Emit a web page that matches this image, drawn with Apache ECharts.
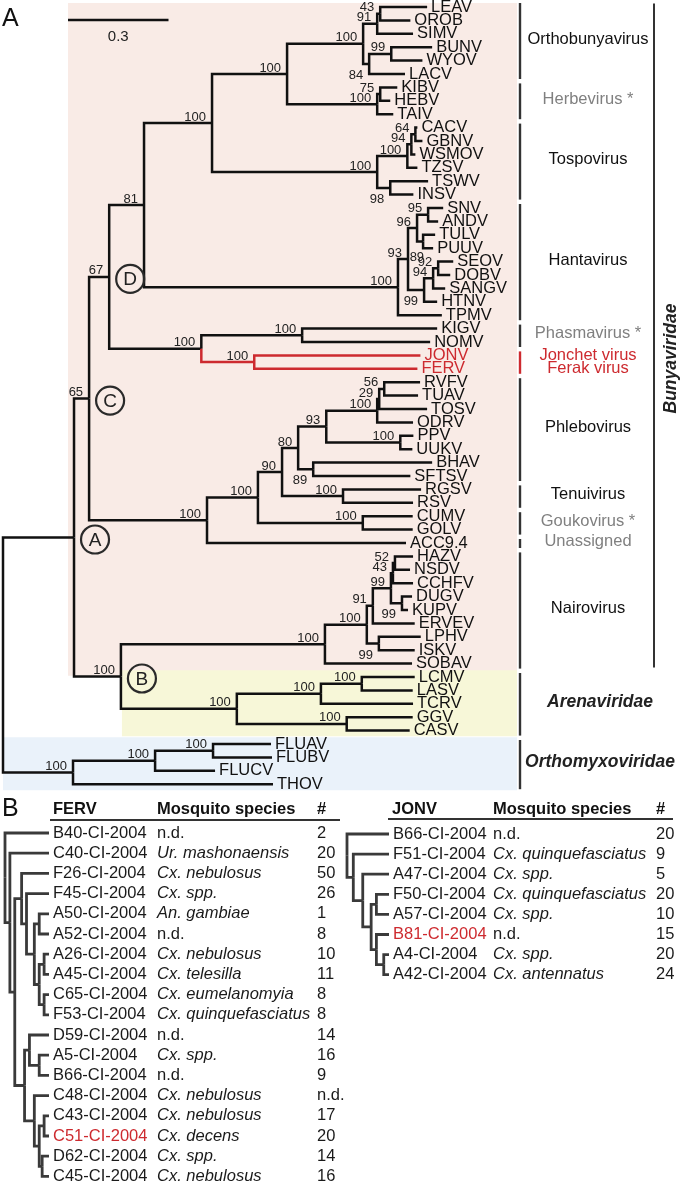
<!DOCTYPE html>
<html>
<head>
<meta charset="utf-8">
<script src="https://cdn.jsdelivr.net/npm/echarts@6.0.0/dist/echarts.min.js"></script>
<style>
html,body{margin:0;padding:0;background:#ffffff;}
#chart{width:680px;height:1184px;}
</style>
</head>
<body>
<div id="chart"></div>
<script>
// ================= DATA =================
// Panel A: phylogeny (Newick, branch lengths in substitutions/site, internal labels = bootstrap %)
const nwkOrthobunya = "(((LEAV:0.140,OROB:0.090)43:0.009,SIMV:0.107)91:0.042,((BUNV:0.122,WYOV:0.093)99:0.066,LACV:0.107)84:0.018)100:0.227";
const nwkHerbe = "((KIBV:0.051,HEBV:0.030)75:0.009,TAIV:0.048)100:0.269";
const nwkTospo = "((((CACV:0.006,GBNV:0.021)64:0.012,WSMOV:0.012)94:0.012,TZSV:0.030)100:0.090,(TSWV:0.113,INSV:0.069)98:0.039)100:0.493";
const nwkHanta = "((((SNV:0.045,ANDV:0.030)95:0.033,(TULV:0.036,PUUV:0.030)89:0.018)96:0.027,(((SEOV:0.045,DOBV:0.036)92:0.015,SANGV:0.036)94:0.027,HTNV:0.039)99:0.048)93:0.030,TPMV:0.131)100:0.758";
const nwkPhasmaJonchet = "((KIGV:0.403,NOMV:0.382)100:0.301,(JONV:0.496,FERV:0.487)100:0.158)100:0.275";
const nwkPhlebo = "((((((((RVFV:0.107,TUAV:0.101)56:0.015,TOSV:0.143)29:0.006,ODRV:0.107)100:0.152,(PPV:0.039,UUKV:0.036)100:0.221)93:0.084,(BHAV:0.355,SFTSV:0.290)89:0.045)80:0.048,(RGSV:0.233,RSV:0.209)100:0.182)90:0.072,(CUMV:0.149,GOLV:0.149)100:0.313)100:0.152,ACC9.4:0.594)100:0.352";
const nwkNairo = "((((((HAZV:0.054,NSDV:0.045)52:0.006,CCHFV:0.060)43:0.006,(DUGV:0.030,KUPV:0.018)99:0.033)99:0.054,ERVEV:0.125)91:0.018,(LPHV:0.125,ISKV:0.107)99:0.036)100:0.125,SOBAV:0.260)100:0.609";
const nwkArena = "(((LCMV:0.158,LASV:0.152)100:0.122,TCRV:0.275)100:0.251,(GGV:0.197,CASV:0.188)100:0.328)100:0.346";
const nwkOrthomyxo = "(((FLUAV:0.173,FLUBV:0.176)100:0.173,FLUCV:0.179)100:0.245,THOV:0.597)100:0.209";
const nwkBackbone = "((((((({Orthobunya},{Herbe})100:0.224,{Tospo})100:0.203,{Hanta})81:0.104,{PhasmaJonchet})67:0.060,{Phlebo})65:0.045,({Nairo},{Arena})100:0.140):0.212,{Orthomyxo});";

const highlightTips = ['JONV', 'FERV'];
const markerLetters = ['A', 'B', 'C', 'D'];
const markerTipA = ['LEAV', 'HAZV', 'LEAV', 'LEAV'];
const markerTipB = ['CASV', 'CASV', 'ACC9.4', 'FERV'];
const bootBelowTipA = ['BUNV', 'TSWV', 'TULV', 'SEOV', 'BHAV', 'DUGV', 'LPHV'];
const bootBelowTipB = ['LACV', 'INSV', 'PUUV', 'HTNV', 'SFTSV', 'KUPV', 'ISKV'];

const cladeNames = ['Orthobunyavirus', 'Herbevirus *', 'Tospovirus', 'Hantavirus', 'Phasmavirus *', 'Jonchet virus|Ferak virus', 'Phlebovirus', 'Tenuivirus', 'Goukovirus *', 'Unassigned', 'Nairovirus', 'Arenaviridae', 'Orthomyxoviridae'];
const cladeFirst = ['LEAV', 'KIBV', 'CACV', 'SNV', 'KIGV', 'JONV', 'RVFV', 'RGSV', 'CUMV', 'ACC9.4', 'HAZV', 'LCMV', 'FLUAV'];
const cladeLast = ['LACV', 'TAIV', 'INSV', 'TPMV', 'NOMV', 'FERV', 'SFTSV', 'RSV', 'GOLV', 'ACC9.4', 'SOBAV', 'CASV', 'THOV'];
const cladeKind = ['genus', 'proposed', 'genus', 'genus', 'proposed', 'novel', 'genus', 'genus', 'proposed', 'proposed', 'genus', 'family', 'family'];
const familyName = 'Bunyaviridae';
const familyFirst = 'LEAV';
const familyLast = 'SOBAV';
const scaleBarLength = 0.3;

// Panel B: isolate trees (cladograms) and tables
const fervTree = "(B40-CI-2004:9,(C40-CI-2004:8,((F26-CI-2004:5.6,(F45-CI-2004:4.6,((A50-CI-2004:2,A52-CI-2004:2):1,((A26-CI-2004:1,A45-CI-2004:1):1,(C65-CI-2004:1,F53-CI-2004:1):1):1):1.6):1):1.4,((D59-CI-2004:4,(A5-CI-2004:2,B66-CI-2004:2):2):1,(C48-CI-2004:3,((C43-CI-2004:1,C51-CI-2004:1):1,(D62-CI-2004:1.4,C45-CI-2004:1.4):0.6):1):2):2):1):1);";
const fervSpecies = ['n.d.', 'Ur. mashonaensis', 'Cx. nebulosus', 'Cx. spp.', 'An. gambiae', 'n.d.', 'Cx. nebulosus', 'Cx. telesilla', 'Cx. eumelanomyia', 'Cx. quinquefasciatus', 'n.d.', 'Cx. spp.', 'n.d.', 'Cx. nebulosus', 'Cx. nebulosus', 'Cx. decens', 'Cx. spp.', 'Cx. nebulosus'];
const fervCount = ['2', '20', '50', '26', '1', '8', '10', '11', '8', '8', '14', '16', '9', 'n.d.', '17', '20', '14', '16'];
const fervHighlight = 'C51-CI-2004';
const jonvTree = "(B66-CI-2004:8,(F51-CI-2004:6.8,(A47-CI-2004:5,((F50-CI-2004:2.4,A57-CI-2004:2.4):1,(B81-CI-2004:2.4,(A4-CI-2004:1,A42-CI-2004:1):1.4):1):1.6):1.8):1.2);";
const jonvSpecies = ['n.d.', 'Cx. quinquefasciatus', 'Cx. spp.', 'Cx. quinquefasciatus', 'Cx. spp.', 'n.d.', 'Cx. spp.', 'Cx. antennatus'];
const jonvCount = ['20', '9', '5', '20', '10', '15', '20', '24'];
const jonvHighlight = 'B81-CI-2004';
const tableHeaders = ['FERV', 'JONV', 'Mosquito species', '#'];

// ================= STYLE / LAYOUT =================
const FONT = '"Liberation Sans", Arial, Helvetica, sans-serif';
const S = {
  leafSize: 16.5, bootSize: 13, cladeSize: 16.5, familySize: 17.5, tableSize: 16.5,
  lineA: 2.5, colA: '#111111', red: '#cd2a2f', gray: '#808080', bootCol: '#222222',
  bgRight: 517, barX: 520, cladeX: 588, familyX: 600,
  bunyaBarX: 654, bunyaTextX: 671, bunyaTextDy: 23,
  scaleX: 68, scaleY: 20, scaleTextY: 37,
  leafGap: 4, bootDx: 6,
  markerDx: 21, markerDy: 2, markerR: 14,
  lineB: 2.8, colB: '#3a3a3a', textB: '#1a1a1a',
  fervSpeciesX: 157, fervCountX: 317, jonvSpeciesX: 493, jonvCountX: 656
};
// label nudges to avoid overlaps (layout only)
const bootNudge = [{a: 'TULV', b: 'PUUV', dx: 7, dy: 4}];
const bgLayout = [
  {anchor: ['LEAV', 'SOBAV'], dx: -6, first: 'LEAV', last: 'SOBAV', top: -0.3, bottom: 0.9, color: '#f9ebe6'},
  {anchor: ['HAZV', 'CASV'], dx: 1, first: 'LCMV', last: 'CASV', top: -0.5, bottom: 0.42, color: '#f7f7d8'},
  {anchor: null, dx: 0, first: 'FLUAV', last: 'THOV', top: -0.5, bottom: 0.45, color: '#eaf2fa'}
];

// ================= HELPERS =================
function parseNewick(s) {
  let i = 0;
  function readNode() {
    const n = {children: [], name: '', len: 0};
    if (s[i] === '(') {
      i++;
      n.children.push(readNode());
      while (s[i] === ',') { i++; n.children.push(readNode()); }
      i++;
    }
    let t = '';
    while (i < s.length && ',:();'.indexOf(s[i]) < 0) t += s[i++];
    n.name = t.trim();
    if (s[i] === ':') {
      i++;
      let l = '';
      while (i < s.length && ',();'.indexOf(s[i]) < 0) l += s[i++];
      n.len = parseFloat(l);
    }
    return n;
  }
  return readNode();
}
function layoutTree(root) {
  const nodes = [], leaves = [];
  (function walk(n, d, parent) {
    n.depth = d; n.parent = parent; nodes.push(n);
    if (!n.children.length) { n.y = leaves.length; leaves.push(n); n.tips = [n.name]; }
    else {
      n.children.forEach(c => walk(c, d + c.len, n));
      n.y = (n.children[0].y + n.children[n.children.length - 1].y) / 2;
      n.tips = [].concat.apply([], n.children.map(c => c.tips));
    }
  })(root, 0, null);
  let maxDepth = 0; leaves.forEach(l => { maxDepth = Math.max(maxDepth, l.depth); });
  return {root, nodes, leaves, maxDepth};
}
function findNode(T, a, b) {
  let best = null;
  T.nodes.forEach(n => {
    if (n.tips.indexOf(a) >= 0 && n.tips.indexOf(b) >= 0 && (!best || n.tips.length < best.tips.length)) best = n;
  });
  return best;
}
function leafIdx(T, name) { return T.leaves.findIndex(l => l.name === name); }
function fontStr(size, weight, italic) { return (italic ? 'italic ' : '') + (weight || 'normal') + ' ' + size + 'px ' + FONT; }
function textEl(x, y, text, o) {
  o = o || {};
  const align = o.align || 'left', va = o.va || 'middle';
  return {type: 'text', x: x, y: y, rotation: o.rotation || 0,
    style: {text: text, fill: o.fill || '#111', font: fontStr(o.size || 16.5, o.weight, o.italic),
      align: align, verticalAlign: va, textAlign: align, textVerticalAlign: va}};
}
function cs(gridIdx, data, render, z) {
  return {type: 'custom', coordinateSystem: 'cartesian2d', xAxisIndex: gridIdx, yAxisIndex: gridIdx,
    data: data, renderItem: render, silent: true, z: z || 2, animation: false, clip: false};
}

// ================= BUILD TREES =================
let nwkA = nwkBackbone
  .replace('{Orthobunya}', nwkOrthobunya).replace('{Herbe}', nwkHerbe).replace('{Tospo}', nwkTospo)
  .replace('{Hanta}', nwkHanta).replace('{PhasmaJonchet}', nwkPhasmaJonchet).replace('{Phlebo}', nwkPhlebo)
  .replace('{Nairo}', nwkNairo).replace('{Arena}', nwkArena).replace('{Orthomyxo}', nwkOrthomyxo);
const TA = layoutTree(parseNewick(nwkA));
const TF = layoutTree(parseNewick(fervTree));
const TJ = layoutTree(parseNewick(jonvTree));

function segmentsOf(T) { return T.nodes.filter(n => n.parent); }
const segA = segmentsOf(TA);
const segF = segmentsOf(TF);
const segJ = segmentsOf(TJ);
const bootNodes = TA.nodes.filter(n => n.children.length && n.name !== '');
const belowSet = bootBelowTipA.map((a, i) => findNode(TA, a, bootBelowTipB[i]));
const nudgeNodes = bootNudge.map(o => findNode(TA, o.a, o.b));
const markerNodes = markerLetters.map((l, i) => findNode(TA, markerTipA[i], markerTipB[i]));

function lineRender(segs, colorFn, width) {
  return function (params, api) {
    const n = segs[params.dataIndex];
    const p0 = api.coord([api.value(0), api.value(1)]);
    const p1 = api.coord([api.value(0), api.value(3)]);
    const p2 = api.coord([api.value(2), api.value(3)]);
    return {type: 'polyline', shape: {points: [p0, p1, p2]},
      style: {stroke: colorFn(n), lineWidth: width, fill: null, lineJoin: 'miter', lineCap: 'butt'}};
  };
}
const segData = segs => segs.map(n => [n.parent.depth, n.parent.y, n.depth, n.y]);

const series = [];

// backgrounds
series.push(cs(0, bgLayout.map(b => {
  const anc = b.anchor ? findNode(TA, b.anchor[0], b.anchor[1]) : TA.root;
  return [anc.depth, leafIdx(TA, b.first) + b.top, leafIdx(TA, b.last) + b.bottom];
}), function (params, api) {
  const b = bgLayout[params.dataIndex];
  const p0 = api.coord([api.value(0), api.value(1)]);
  const p1 = api.coord([api.value(0), api.value(2)]);
  const x0 = p0[0] + b.dx;
  return {type: 'rect', shape: {x: x0, y: p0[1], width: S.bgRight - x0, height: p1[1] - p0[1]}, style: {fill: b.color}};
}, 0));

// clade bars + names
series.push(cs(0, cladeNames.map((n, i) => [leafIdx(TA, cladeFirst[i]), leafIdx(TA, cladeLast[i])]), function (params, api) {
  const i = params.dataIndex, kind = cladeKind[i];
  const f = api.value(0), l = api.value(1);
  const y0 = api.coord([0, f])[1] - 4, y1 = api.coord([0, l])[1] + 5;
  const col = kind === 'novel' ? S.red : '#333';
  const kids = [{type: 'rect', shape: {x: S.barX - 1.2, y: y0, width: 2.4, height: y1 - y0}, style: {fill: col}}];
  const mid = (y0 + y1) / 2 - 2;
  if (kind === 'novel') {
    cladeNames[i].split('|').forEach((t, k) => {
      kids.push(textEl(S.cladeX, api.coord([0, f + k])[1], t, {align: 'center', fill: S.red, size: S.cladeSize}));
    });
  } else if (kind === 'family') {
    kids.push(textEl(S.familyX, mid, cladeNames[i], {align: 'center', size: S.familySize, weight: 'bold', italic: true, fill: '#222'}));
  } else {
    kids.push(textEl(S.cladeX, mid, cladeNames[i], {align: 'center', size: S.cladeSize, fill: kind === 'proposed' ? S.gray : '#111'}));
  }
  return {type: 'group', children: kids};
}, 3));

// family (Bunyaviridae) bar + rotated label
series.push(cs(0, [[leafIdx(TA, familyFirst), leafIdx(TA, familyLast)]], function (params, api) {
  const y0 = api.coord([0, api.value(0)])[1] - 3.5, y1 = api.coord([0, api.value(1)])[1] + 4;
  return {type: 'group', children: [
    {type: 'rect', shape: {x: S.bunyaBarX - 1, y: y0, width: 2, height: y1 - y0}, style: {fill: '#333'}},
    textEl(S.bunyaTextX, (y0 + y1) / 2 + S.bunyaTextDy, familyName, {align: 'center', size: S.familySize, weight: 'bold', italic: true, rotation: Math.PI / 2, fill: '#222'})
  ]};
}, 3));

// tree A branches
series.push(cs(0, segData(segA), lineRender(segA, n => n.tips.every(t => highlightTips.indexOf(t) >= 0) ? S.red : S.colA, S.lineA), 5));

// leaf labels
series.push(cs(0, TA.leaves.map(l => [l.depth, l.y]), function (params, api) {
  const l = TA.leaves[params.dataIndex];
  const p = api.coord([api.value(0), api.value(1)]);
  return textEl(p[0] + S.leafGap, p[1], l.name, {size: S.leafSize, fill: highlightTips.indexOf(l.name) >= 0 ? S.red : '#111'});
}, 6));

// bootstrap values
series.push(cs(0, bootNodes.map(n => [n.depth, n.y]), function (params, api) {
  const n = bootNodes[params.dataIndex];
  const p = api.coord([api.value(0), api.value(1)]);
  const below = belowSet.indexOf(n) >= 0;
  const k = nudgeNodes.indexOf(n);
  const ndx = k >= 0 ? bootNudge[k].dx : 0, ndy = k >= 0 ? bootNudge[k].dy : 0;
  return textEl(p[0] - S.bootDx + ndx, (below ? p[1] + 5 : p[1] + 0.5) + ndy, n.name,
    {align: 'right', va: below ? 'top' : 'bottom', size: S.bootSize, fill: S.bootCol});
}, 6));

// node markers (A-D)
series.push(cs(0, markerNodes.map(n => [n.depth, n.y]), function (params, api) {
  const p = api.coord([api.value(0), api.value(1)]);
  const cx = p[0] + S.markerDx, cy = p[1] + S.markerDy;
  return {type: 'group', children: [
    {type: 'circle', shape: {cx: cx, cy: cy, r: S.markerR}, style: {fill: null, stroke: '#2a2a2a', lineWidth: 2.2}},
    textEl(cx, cy + 1, markerLetters[params.dataIndex], {align: 'center', size: 19, fill: '#222'})
  ]};
}, 7));

// scale bar
series.push(cs(0, [[scaleBarLength]], function (params, api) {
  const len = api.coord([api.value(0), 0])[0] - api.coord([0, 0])[0];
  return {type: 'group', children: [
    {type: 'line', shape: {x1: S.scaleX, y1: S.scaleY, x2: S.scaleX + len, y2: S.scaleY}, style: {stroke: '#111', lineWidth: 2.5}},
    textEl(S.scaleX + len / 2, S.scaleTextY, String(api.value(0)), {align: 'center', size: 15, fill: '#222'})
  ]};
}, 5));

// Panel B trees
series.push(cs(1, segData(segF), lineRender(segF, () => S.colB, S.lineB), 5));
series.push(cs(2, segData(segJ), lineRender(segJ, () => S.colB, S.lineB), 5));

function tableRender(T, species, counts, hl, spX, cnX) {
  return function (params, api) {
    const l = T.leaves[params.dataIndex];
    const p = api.coord([api.value(0), api.value(1)]);
    const sp = species[params.dataIndex];
    return {type: 'group', children: [
      textEl(p[0] + S.leafGap, p[1], l.name, {size: S.tableSize, fill: l.name === hl ? S.red : S.textB}),
      textEl(spX, p[1], sp, {size: S.tableSize, italic: sp !== 'n.d.', fill: S.textB}),
      textEl(cnX, p[1], counts[params.dataIndex], {size: S.tableSize, fill: S.textB})
    ]};
  };
}
series.push(cs(1, TF.leaves.map(l => [l.depth, l.y]), tableRender(TF, fervSpecies, fervCount, fervHighlight, S.fervSpeciesX, S.fervCountX), 6));
series.push(cs(2, TJ.leaves.map(l => [l.depth, l.y]), tableRender(TJ, jonvSpecies, jonvCount, jonvHighlight, S.jonvSpeciesX, S.jonvCountX), 6));

// graphic: panel letters, headers
function gText(x, y, text, size, weight) {
  return {type: 'text', x: x, y: y, silent: true,
    style: {text: text, font: fontStr(size, weight), fill: '#111', align: 'left', verticalAlign: 'middle', textAlign: 'left', textVerticalAlign: 'middle'}};
}
const graphic = [
  gText(2, 19, 'A', 25),
  gText(2, 809, 'B', 25),
  gText(53, 809, tableHeaders[0], S.tableSize, 'bold'),
  gText(S.fervSpeciesX, 809, tableHeaders[2], S.tableSize, 'bold'),
  gText(S.fervCountX, 809, tableHeaders[3], S.tableSize, 'bold'),
  {type: 'line', silent: true, shape: {x1: 50, y1: 820, x2: 340, y2: 820}, style: {stroke: '#333', lineWidth: 2}},
  gText(392, 809, tableHeaders[1], S.tableSize, 'bold'),
  gText(S.jonvSpeciesX, 809, tableHeaders[2], S.tableSize, 'bold'),
  gText(S.jonvCountX, 809, tableHeaders[3], S.tableSize, 'bold'),
  {type: 'line', silent: true, shape: {x1: 388, y1: 819, x2: 673, y2: 819}, style: {stroke: '#333', lineWidth: 2}}
];

const option = {
  animation: false,
  backgroundColor: '#ffffff',
  grid: [
    {left: 3, top: 7, width: 670, height: 13.4 * (TA.leaves.length - 1), containLabel: false, outerBoundsMode: 'none'},
    {left: 5, top: 833, width: 44, height: 20.2 * (TF.leaves.length - 1), containLabel: false, outerBoundsMode: 'none'},
    {left: 347, top: 834, width: 42, height: 20.1 * (TJ.leaves.length - 1), containLabel: false, outerBoundsMode: 'none'}
  ],
  xAxis: [
    {gridIndex: 0, type: 'value', min: 0, max: 2, show: false},
    {gridIndex: 1, type: 'value', min: 0, max: TF.maxDepth, show: false},
    {gridIndex: 2, type: 'value', min: 0, max: TJ.maxDepth, show: false}
  ],
  yAxis: [
    {gridIndex: 0, type: 'value', min: 0, max: TA.leaves.length - 1, inverse: true, show: false},
    {gridIndex: 1, type: 'value', min: 0, max: TF.leaves.length - 1, inverse: true, show: false},
    {gridIndex: 2, type: 'value', min: 0, max: TJ.leaves.length - 1, inverse: true, show: false}
  ],
  series: series,
  graphic: graphic
};
const chart = echarts.init(document.getElementById('chart'), null, {renderer: 'canvas', width: 680, height: 1184});
chart.setOption(option);
</script>
</body>
</html>
